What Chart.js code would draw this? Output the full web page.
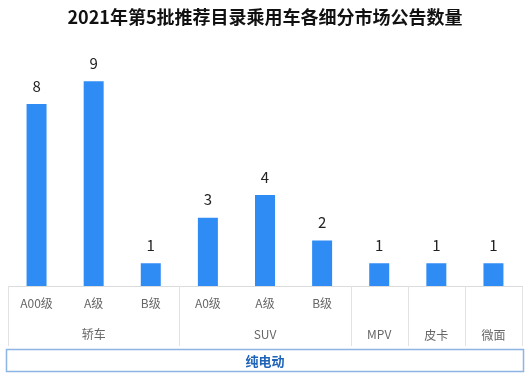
<!DOCTYPE html>
<html><head><meta charset="utf-8">
<script src="https://cdn.jsdelivr.net/npm/chart.js@4"></script>
<style>html,body{margin:0;padding:0;background:#fff}#wrap{width:531px;height:382px}</style>
</head><body><div id="wrap"><canvas id="c" width="531" height="382"></canvas></div>
<script>
const titleText = '2021年第5批推荐目录乘用车各细分市场公告数量';
const subLabels = ['A00级','A级','B级','A0级','A级','B级','','',''];
const segmentOf = ['轿车','轿车','轿车','SUV','SUV','SUV','MPV','皮卡','微面'];
const values = [8, 9, 1, 3, 4, 2, 1, 1, 1];
const powertrain = '纯电动';

const FONT = '"Noto Sans CJK SC","Noto Sans",sans-serif';

const groupAxis = {
  id: 'groupAxis',
  afterDraw(chart) {
    const ctx = chart.ctx, x = chart.scales.x, area = chart.chartArea;
    const half = (x.getPixelForValue(1) - x.getPixelForValue(0)) / 2;
    const base = area.bottom;
    ctx.save();
    // axis line
    ctx.strokeStyle = '#dcdcdc'; ctx.lineWidth = 1;
    ctx.beginPath(); ctx.moveTo(x.left, base + 0.5); ctx.lineTo(x.right, base + 0.5); ctx.stroke();
    // groups
    const groups = [];
    segmentOf.forEach((g, i) => {
      const last = groups[groups.length - 1];
      if (last && last.name === g) last.end = i; else groups.push({name: g, start: i, end: i});
    });
    const sepX = [x.getPixelForValue(0) - half];
    groups.forEach(g => sepX.push(x.getPixelForValue(g.end) + half));
    ctx.strokeStyle = '#e2e2e2';
    sepX.forEach(px => {
      const xx = Math.round(px) + 0.5;
      ctx.beginPath(); ctx.moveTo(xx, base); ctx.lineTo(xx, base + 60); ctx.stroke();
    });
    ctx.fillStyle = '#666'; ctx.font = '12px ' + FONT;
    ctx.textAlign = 'center'; ctx.textBaseline = 'middle';
    groups.forEach(g => {
      const cx = (x.getPixelForValue(g.start) + x.getPixelForValue(g.end)) / 2;
      const oneLine = !subLabels.slice(g.start, g.end + 1).some(s => s);
      ctx.fillText(g.name, cx, base + (oneLine && /[\u4e00-\u9fff]/.test(g.name) ? 49 : 48));
    });
    // powertrain box
    const bx = x.left - 1.5, bw = x.right - x.left + 3, by = base + 63.5, bh = 22;
    ctx.strokeStyle = '#8db4e2'; ctx.lineWidth = 1.5;
    ctx.strokeRect(bx, by, bw, bh);
    ctx.fillStyle = '#1e63b8'; ctx.font = 'bold 13px ' + FONT;
    ctx.fillText(powertrain, (x.left + x.right) / 2, by + bh / 2 + 0.5);
    ctx.restore();
  }
};

const valueLabels = {
  id: 'valueLabels',
  afterDatasetsDraw(chart) {
    const ctx = chart.ctx, meta = chart.getDatasetMeta(0);
    ctx.save();
    ctx.fillStyle = '#222'; ctx.font = '15px ' + FONT;
    ctx.textAlign = 'center'; ctx.textBaseline = 'middle';
    meta.data.forEach((bar, i) => ctx.fillText(String(values[i]), bar.x, bar.y - 18));
    ctx.restore();
  }
};

new Chart(document.getElementById('c'), {
  type: 'bar',
  data: { labels: subLabels, datasets: [{ data: values, backgroundColor: '#2f8cf4', borderWidth: 0,
    barPercentage: 0.35, categoryPercentage: 1 }] },
  options: {
    responsive: false, animation: false, devicePixelRatio: 1,
    layout: { padding: { left: 8, right: 9, top: 0, bottom: 0 } },
    plugins: {
      legend: { display: false }, tooltip: { enabled: false },
      title: { display: true, text: titleText, color: '#111',
        font: { family: FONT, size: 18, weight: 'bold' }, padding: { top: 6, bottom: 31 } }
    },
    scales: {
      x: { grid: { display: false, drawTicks: false }, border: { display: false },
        ticks: { color: '#666', font: { family: FONT, size: 12 }, padding: 10, maxRotation: 0, autoSkip: false },
        afterFit(s) { s.height = 96; } },
      y: { display: false, min: 0, max: 10 }
    }
  },
  plugins: [groupAxis, valueLabels]
});
</script></body></html>
